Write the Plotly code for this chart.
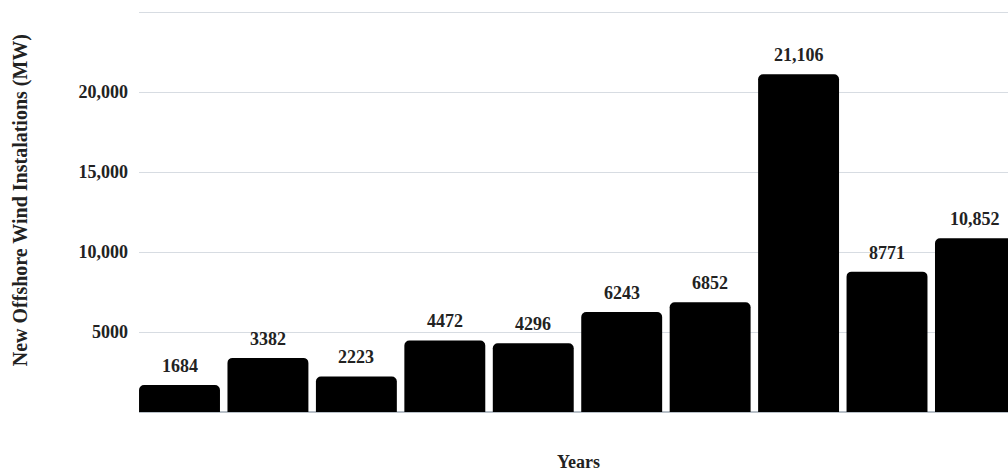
import plotly.graph_objects as go

years = ["2014", "2015", "2016", "2017", "2018", "2019", "2020", "2021", "2022", "2023"]
installs = [1684, 3382, 2223, 4472, 4296, 6243, 6852, 21106, 8771, 10852]
label_text = ["1684", "3382", "2223", "4472", "4296", "6243", "6852", "21,106", "8771", "10,852"]
tick_vals = [0, 5000, 10000, 15000, 20000, 25000]
tick_text = ["", "5000", "10,000", "15,000", "20,000", ""]

FONT = "Liberation Serif"
fsize = 18

fig = go.Figure()
fig.add_trace(go.Bar(
    x=list(range(len(years))), y=installs,
    marker=dict(color="#000000", line=dict(width=0), cornerradius=5),
    width=0.915,
    hovertext=years,
))

for i, (v, t) in enumerate(zip(installs, label_text)):
    fig.add_annotation(x=i, y=v, text=f"<b>{t}</b>", showarrow=False,
                       yanchor="bottom", yshift=7, xref="x", yref="y",
                       font=dict(family=FONT, size=fsize, color="#222222"))

fig.add_annotation(text="<b>New Offshore Wind Instalations (MW)</b>", textangle=-90,
                   xref="paper", yref="paper", x=-0.136, y=0.525, showarrow=False,
                   xanchor="center", yanchor="middle",
                   font=dict(family=FONT, size=20, color="#222222"))
fig.add_annotation(text="<b>Years</b>", xref="paper", yref="paper",
                   x=(578 - 139) / 869, y=-0.125, showarrow=False, xanchor="center", yanchor="middle",
                   font=dict(family=FONT, size=fsize, color="#222222"))

fig.update_layout(
    width=1008, height=471,
    margin=dict(l=139, r=0, t=9, b=59),
    plot_bgcolor="white", paper_bgcolor="white",
    showlegend=False,
    xaxis=dict(range=[-0.458, 9.368], showticklabels=False, showgrid=False,
               zeroline=False, showline=False, ticks=""),
    yaxis=dict(range=[0, 25187.5], tickvals=tick_vals, ticktext=[f"<b>{t}</b>" if t else "" for t in tick_text],
               showgrid=True, gridcolor="#d7dce2", gridwidth=1.3,
               zeroline=True, zerolinecolor="#b8c0c8", zerolinewidth=1.5,
               showline=False, ticks="", ticklabelstandoff=10,
               tickfont=dict(family=FONT, size=fsize, color="#222222")),
)

fig.write_html("out.html")
